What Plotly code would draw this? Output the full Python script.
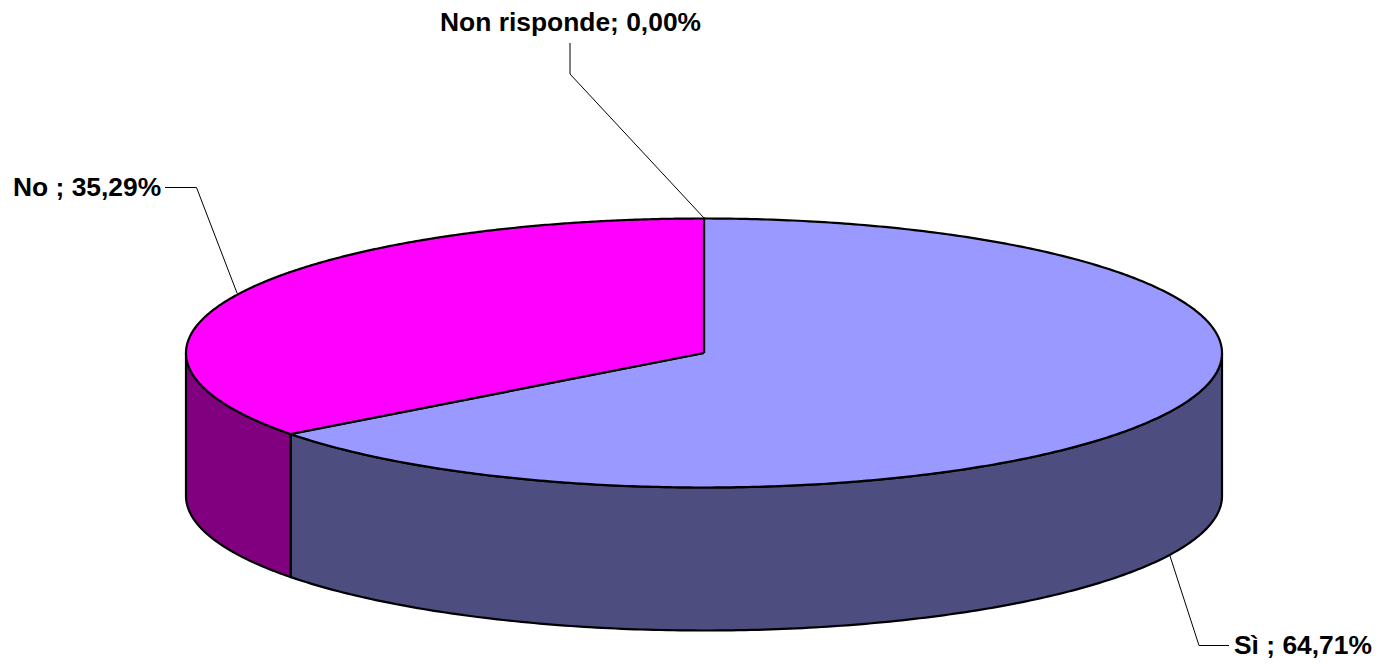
import numpy as np
import plotly.graph_objects as go

categories = ["Sì ", "No ", "Non risponde"]
values = [64.71, 35.29, 0.0]
labels = ["Sì ; 64,71%", "No ; 35,29%", "Non risponde; 0,00%"]
top_colors = ["#9999FF", "#FF00FF", "#FFFFCC"]
side_colors = ["#4D4D80", "#800080", "#808066"]

W, H = 1382, 664
CX, CY, RX, RY, DEPTH = 704.0, 353.0, 518.0, 134.5, 143.0
LINE = dict(color="black", width=2.2, simplify=False)


def pt(theta, dy=0.0):
    return CX + RX * np.sin(theta), CY - RY * np.cos(theta) + dy


fig = go.Figure()


def poly(x, y, fill, line=LINE):
    fig.add_trace(go.Scatter(x=list(x), y=list(y), mode="lines", fill="toself", fillcolor=fill,
                             line=line, hoverinfo="skip", showlegend=False))


total = sum(values)
start = 0.0
arcs = []
for v, tc, sc in zip(values, top_colors, side_colors):
    end = start + 2 * np.pi * v / total
    arcs.append((start, end, tc, sc))
    start = end

# side walls: only the front half (pi/2 .. 3pi/2 in clockwise angle) is visible
for a, b, tc, sc in arcs:
    lo, hi = max(a, np.pi / 2), min(b, 3 * np.pi / 2)
    if hi > lo:
        t = np.linspace(lo, hi, 200)
        xt, yt = pt(t)
        xb, yb = pt(t[::-1], DEPTH)
        poly(np.r_[xt, xb, xt[0]], np.r_[yt, yb, yt[0]], sc)

# top faces
for a, b, tc, sc in arcs:
    if b > a:
        t = np.linspace(a, b, 400)
        xt, yt = pt(t)
        poly(np.r_[CX, xt, CX], np.r_[CY, yt, CY], tc)

# leader lines
leaders = [
    ([1170, 1199, 1229], [556, 645.5, 645.5]),
    ([237, 196.5, 165], [293, 187.5, 187.5]),
    ([704, 570, 570], [218, 74, 43]),
]
for lx, ly in leaders:
    fig.add_trace(go.Scatter(x=lx, y=ly, mode="lines", line=dict(color="black", width=1),
                             hoverinfo="skip", showlegend=False))

# data labels
fig.add_trace(go.Scatter(
    x=[1234, 13, 440], y=[647, 189, 24], mode="text", text=labels,
    textposition="middle right",
    textfont=dict(family="Liberation Sans", size=26.4, color="black", weight="bold"),
    hoverinfo="skip", showlegend=False))

fig.update_xaxes(range=[0, W], visible=False, fixedrange=True)
fig.update_yaxes(range=[H, 0], visible=False, fixedrange=True)
fig.update_layout(width=W, height=H, margin=dict(l=0, r=0, t=0, b=0),
                  paper_bgcolor="white", plot_bgcolor="white")
fig.write_html("out.html", config={"displayModeBar": False},
               post_script="document.body.style.margin='0';")
